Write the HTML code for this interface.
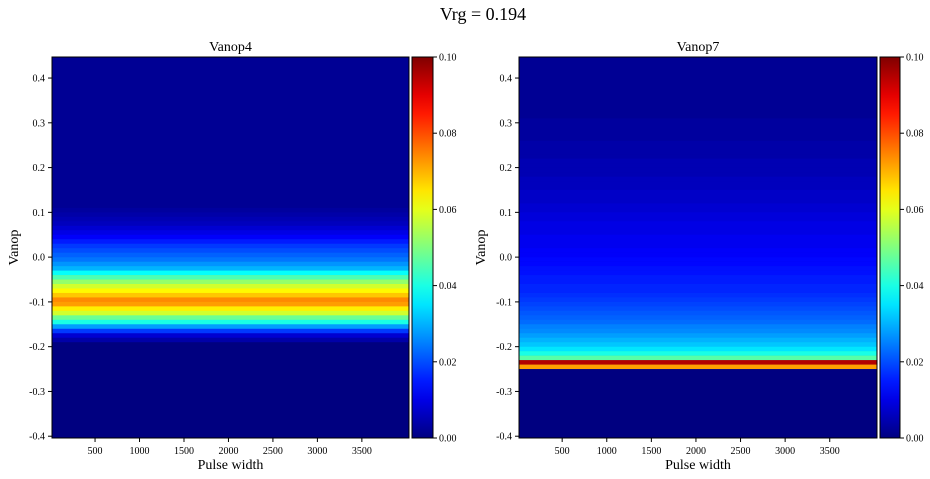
<!DOCTYPE html>
<html><head><meta charset="utf-8"><style>
html,body{margin:0;padding:0;background:#fff;}
svg{display:block;font-family:"Liberation Serif",serif;}
</style></head><body>
<svg id="fig" width="930" height="479" xmlns="http://www.w3.org/2000/svg">
<text x="483" y="20" font-size="18" text-anchor="middle">Vrg = 0.194</text>
</svg>
<script>
// ---- data ----
const yTicks = [-0.4,-0.3,-0.2,-0.1,0.0,0.1,0.2,0.3,0.4];
const xTicks = [500,1000,1500,2000,2500,3000,3500];
const cbTicks = [0.00,0.02,0.04,0.06,0.08,0.10];
const binStep = 0.01;
const binStart = 0.45;
const profileVanop4 = [
 0.002,0.002,0.002,0.002,0.002,0.002,0.002,0.002,0.002,0.002,
 0.002,0.002,0.002,0.002,0.002,0.002,0.002,0.002,0.002,0.002,
 0.002,0.002,0.002,0.002,0.002,0.002,0.002,0.002,0.002,0.002,
 0.002,0.002,0.002,0.002,0.003,
 0.004,0.005,0.006,0.008,0.010,
 0.012,0.015,0.018,0.020,0.022,0.024,
 0.027,0.030,0.038,0.045,0.052,0.058,0.063,0.068,0.074,0.072,
 0.064,0.058,0.048,0.040,0.028,0.018,0.008,0.004,
 0,0,0,0,0,0,0,0,0,0,0,0,0,0,0,0,0,0,0,0,0,0];
const profileVanop7 = [
 0.002,0.002,0.002,0.002,0.002,0.002,0.002,0.002,0.002,0.002,0.002,0.002,0.002,0.002,0.003,
 0.003,0.003,0.003,0.003,0.004,0.004,0.004,0.004,0.005,0.005,
 0.005,0.005,0.006,0.006,0.006,0.007,0.007,0.007,0.008,0.008,
 0.009,0.009,0.010,0.010,0.010,0.011,0.011,0.011,0.012,0.012,
 0.013,0.013,0.014,0.014,0.015,0.015,0.016,0.016,0.017,0.018,
 0.019,0.020,0.021,0.022,0.023,
 0.025,0.026,0.028,0.030,0.032,
 0.035,0.040,0.046,0.095,0.072,
 0,0,0,0,0,0,0,0,0,0,0,0,0,0,0,0];
const panels = [
 {name:'vanop4', title:'Vanop4', profile:profileVanop4, x0:52, x1:409, cb0:412, cb1:433},
 {name:'vanop7', title:'Vanop7', profile:profileVanop7, x0:519, x1:877, cb0:880, cb1:900}
];
// ---- scales ----
const Y0=57, Y1=438, yMin=-0.404, yMax=0.447, xMin=16, xMax=4030, vMax=0.1;
const yS = v => Y1 - (v - yMin)/(yMax - yMin)*(Y1-Y0);
function jet(t){t=Math.max(0,Math.min(1,t));
 const r=Math.max(0,Math.min(1,1.5-Math.abs(4*t-3))),g=Math.max(0,Math.min(1,1.5-Math.abs(4*t-2))),b=Math.max(0,Math.min(1,1.5-Math.abs(4*t-1)));
 return `rgb(${Math.round(r*255)},${Math.round(g*255)},${Math.round(b*255)})`;}
const NS='http://www.w3.org/2000/svg', svg=document.getElementById('fig');
function mk(tag,attrs,parent){const e=document.createElementNS(NS,tag);for(const k in attrs)e.setAttribute(k,attrs[k]);(parent||svg).appendChild(e);return e;}
const defs=mk('defs',{});
const grad=mk('linearGradient',{id:'jetg',x1:0,y1:1,x2:0,y2:0},defs);
for(let i=0;i<=20;i++){mk('stop',{offset:i/20,'stop-color':jet(i/20)},grad);}
panels.forEach(p=>{
 const xS=v=>p.x0+(v-xMin)/(xMax-xMin)*(p.x1-p.x0);
 const cp=mk('clipPath',{id:'clip-'+p.name},defs);
 mk('rect',{x:p.x0,y:Y0,width:p.x1-p.x0,height:Y1-Y0},cp);
 const g=mk('g',{'clip-path':`url(#clip-${p.name})`});
 
 
 mk('rect',{x:p.x0,y:Y0,width:p.x1-p.x0,height:Y1-Y0,fill:jet(0)},g);
 p.profile.forEach((v,i)=>{
  const top=binStart-i*binStep, bot=top-binStep;
  const r=mk('rect',{x:p.x0,y:yS(top),width:p.x1-p.x0,height:yS(bot)-yS(top)+0.3,fill:jet(v/vMax)},g);
  
  
 });
 const fr=mk('rect',{x:p.x0,y:Y0,width:p.x1-p.x0,height:Y1-Y0,fill:'none',stroke:'#000','stroke-width':1});
 
 
 const t=mk('text',{x:(p.x0+p.x1)/2,y:51,'font-size':14,'text-anchor':'middle'});t.textContent=p.title;
 
 
 yTicks.forEach(v=>{const y=yS(v);mk('line',{x1:p.x0-4,x2:p.x0,y1:y,y2:y,stroke:'#000'});
  const tx=mk('text',{x:p.x0-7,y:y+3.5,'font-size':10,'text-anchor':'end'});tx.textContent=v.toFixed(1);
  
  });
 xTicks.forEach(v=>{const x=xS(v);mk('line',{x1:x,x2:x,y1:Y1,y2:Y1+4,stroke:'#000'});
  const tx=mk('text',{x:x,y:Y1+16,'font-size':10,'text-anchor':'middle'});tx.textContent=v;
  
  });
 const xl=mk('text',{x:(p.x0+p.x1)/2,y:469,'font-size':14,'text-anchor':'middle'});xl.textContent='Pulse width';
 
 
 const yl=mk('text',{x:0,y:0,'font-size':14,'text-anchor':'middle',transform:`translate(${p.x0-34},${(Y0+Y1)/2}) rotate(-90)`});yl.textContent='Vanop';
 
 
 const cb=mk('rect',{x:p.cb0,y:Y0,width:p.cb1-p.cb0,height:Y1-Y0,fill:'url(#jetg)',stroke:'#000','stroke-width':1});
 
 
 cbTicks.forEach(v=>{const y=Y1-v/vMax*(Y1-Y0);mk('line',{x1:p.cb1,x2:p.cb1+4,y1:y,y2:y,stroke:'#000'});
  const tx=mk('text',{x:p.cb1+6,y:y+3.5,'font-size':10});tx.textContent=v.toFixed(2);
  
  });
});
</script>
</body></html>
